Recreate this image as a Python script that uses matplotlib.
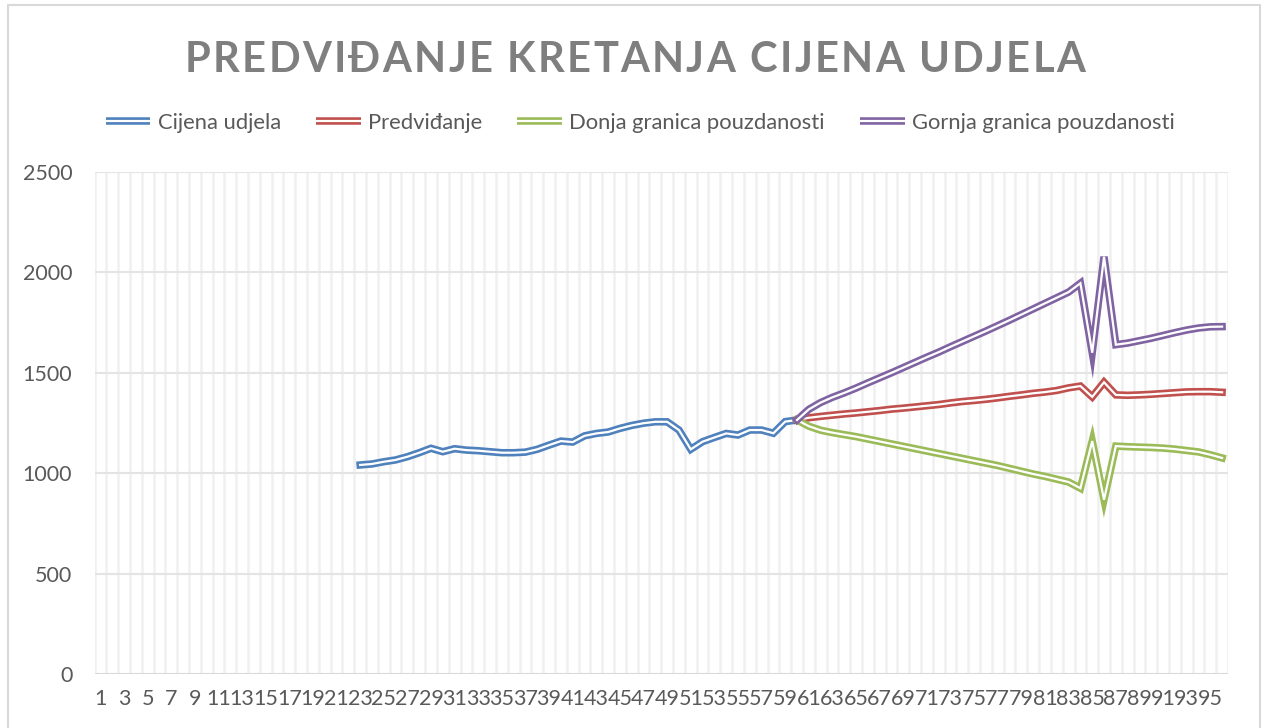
import numpy as np
import matplotlib.pyplot as plt
from matplotlib.lines import Line2D
from matplotlib.legend_handler import HandlerTuple
from matplotlib.patches import Rectangle

plt.rcParams['font.family'] = ['Lato', 'DejaVu Sans']

W, H = 1262, 728

# periods on the category axis
periods = np.arange(1, 97)

# actual share price, periods 23..60
price_start = 23
price = [1041, 1046, 1057, 1066, 1082, 1102, 1124, 1107, 1122, 1115,
         1112, 1107, 1102, 1102, 1105, 1119, 1140, 1160, 1155, 1186,
         1198, 1205, 1223, 1238, 1249, 1256, 1256, 1215, 1119, 1157,
         1178, 1198, 1190, 1215, 1215, 1199, 1257, 1265]

# forecast with confidence bounds, periods 60..96
fc_start = 60
forecast = [1265, 1276, 1283, 1289, 1295, 1300, 1306, 1312, 1319, 1324,
            1330, 1336, 1342, 1350, 1357, 1362, 1368, 1375, 1383, 1390,
            1398, 1404, 1412, 1425, 1434, 1380, 1453, 1390, 1388, 1390,
            1393, 1397, 1401, 1405, 1406, 1406, 1403]
lower = [1265, 1234, 1214, 1202, 1192, 1182, 1170, 1158, 1146, 1134,
         1122, 1110, 1098, 1086, 1074, 1062, 1050, 1038, 1024, 1010,
         996, 984, 970, 956, 925, 1160, 868, 1135, 1132, 1130,
         1128, 1125, 1120, 1113, 1106, 1092, 1076]
upper = [1265, 1318, 1352, 1378, 1400, 1424, 1450, 1475, 1500, 1526,
         1552, 1578, 1603, 1630, 1656, 1682, 1708, 1735, 1762, 1790,
         1818, 1846, 1874, 1902, 1946, 1600, 2078, 1640, 1648, 1660,
         1672, 1686, 1700, 1713, 1723, 1729, 1730]

labels = ['Cijena udjela', 'Predviđanje', 'Donja granica pouzdanosti',
          'Gornja granica pouzdanosti']
colors = ['#4F81BD', '#C0504D', '#9BBB59', '#8064A2']
title = 'PREDVIĐANJE KRETANJA CIJENA UDJELA'
text_grey = '#595959'

fig = plt.figure(figsize=(W / 100, H / 100), dpi=100)
fig.patch.set_facecolor('white')

# chart frame
fig.add_artist(Rectangle((8 / W, -0.02), (1260 - 8) / W, 1 - 5 / H + 0.02,
                         transform=fig.transFigure, fill=False,
                         ec='#d9d9d9', lw=1.5))

ax = fig.add_axes([94.5 / W, 1 - 674 / H, (1228 - 94.5) / W, (674 - 172) / H])
ax.set_xlim(0.5, 96.5)
ax.set_ylim(0, 2500)
for s in ax.spines.values():
    s.set_visible(False)

# gridlines
ax.vlines(np.arange(0.5, 97), 0, 2500, color='#f0f0f0', lw=1.8, zorder=0)
ax.hlines(np.arange(500, 2501, 500), 0.5, 96.5, color='#e4e4e4', lw=1.5, zorder=0)
ax.axhline(0, color='#d9d9d9', lw=1.5, zorder=1)

LW_OUT, LW_IN = 5.4, 1.6


def double_line(x, y, color):
    ax.plot(x, y, color=color, lw=LW_OUT, solid_joinstyle='miter', zorder=3)
    ax.plot(x, y, color='white', lw=LW_IN, solid_joinstyle='miter', zorder=3)


double_line(np.arange(price_start, price_start + len(price)), price, colors[0])
fc_x = np.arange(fc_start, fc_start + len(forecast))
double_line(fc_x, forecast, colors[1])
double_line(fc_x, lower, colors[2])
double_line(fc_x, upper, colors[3])

ax.set_xticks(periods[::2])
ax.set_xticklabels([str(p) for p in periods[::2]])
ax.set_yticks(np.arange(0, 2501, 500))
ax.tick_params(axis='both', length=0, labelsize=15.5, colors=text_grey)
ax.tick_params(axis='x', pad=11)
ax.tick_params(axis='y', pad=16)

# legend with double-line keys
handles = [(Line2D([], [], color=c, lw=LW_OUT, solid_capstyle='butt'),
            Line2D([], [], color='white', lw=LW_IN, solid_capstyle='butt'))
           for c in colors]
fig.legend(handles, labels, handler_map={tuple: HandlerTuple(ndivide=1)},
           loc='center', bbox_to_anchor=(640 / W, 1 - 123 / H), ncol=4,
           frameon=False, fontsize=15.8, labelcolor=text_grey,
           handlelength=2.05, handletextpad=0.32, columnspacing=1.6)


# letter-spaced title
def spaced_title(text, xc, y_base, width_px, **kw):
    renderer = fig.canvas.get_renderer()
    probe = fig.text(0, 0, '', **kw)

    def w(s):
        probe.set_text(s)
        return probe.get_window_extent(renderer).width

    lefts = [w(text[:i + 1]) - w(text[i]) for i in range(len(text))]
    gap = (width_px - w(text)) / (len(text) - 1)
    x0 = xc - width_px / 2
    for i, ch in enumerate(text):
        if ch != ' ':
            fig.text((x0 + lefts[i] + i * gap) / W, y_base, ch,
                     ha='left', va='baseline', **kw)
    probe.remove()


spaced_title(title, 635, 1 - 72 / H, 900, fontsize=30, fontweight='bold',
             color='#7f7f7f')

fig.savefig('out.png', dpi=100)
